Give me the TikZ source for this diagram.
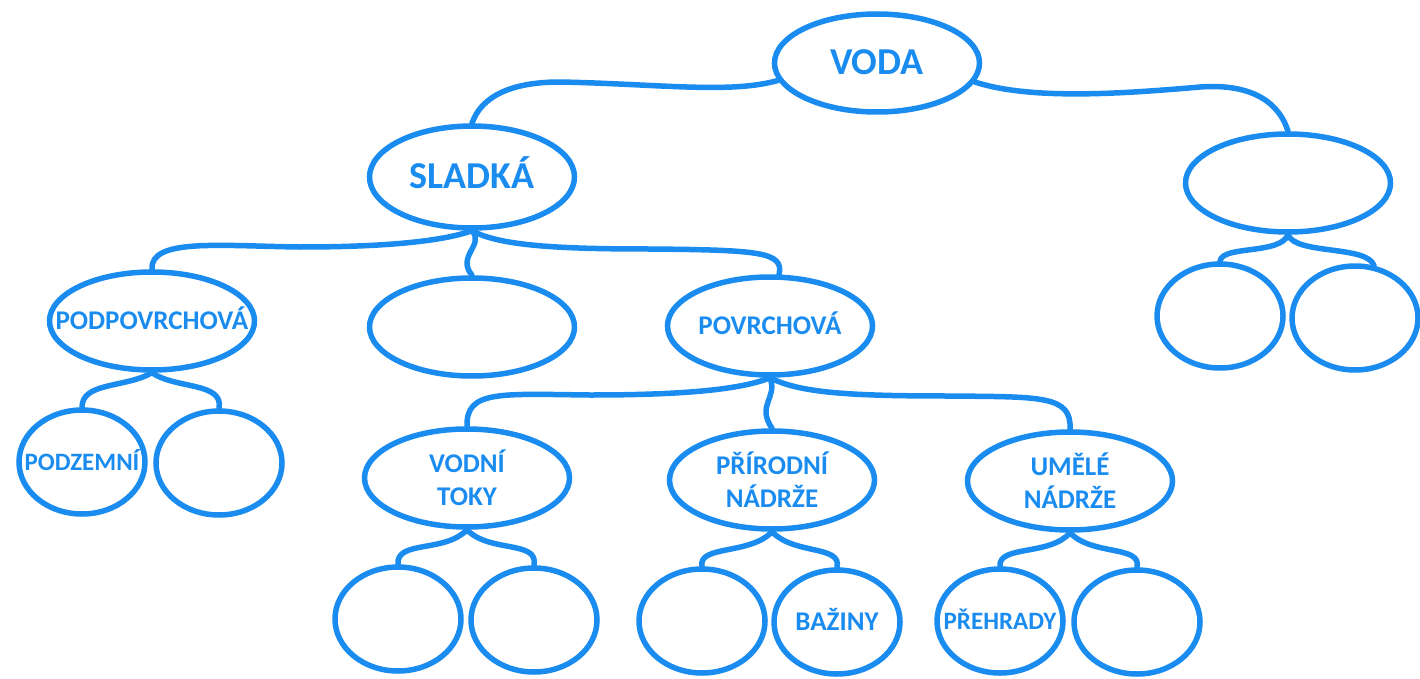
\documentclass[tikz,border=0pt]{standalone}
\usepackage{fontspec}
\setmainfont{Carlito}
\usetikzlibrary{shapes.geometric}
\definecolor{wblue}{RGB}{26,140,240}
\newcommand{\zb}[1]{\makebox[0pt]{#1}}
\tikzset{
  bub/.style={ellipse, draw=wblue, line width=5.5pt, inner sep=0pt, text=wblue, font=\bfseries},
  big/.style={bub, minimum width=205pt, minimum height=98pt},
  small/.style={bub, minimum width=126pt, minimum height=104pt},
  link/.style={draw=wblue, line width=5.5pt, line cap=round},
  tbig/.style={font=\bfseries\fontsize{38}{40}\selectfont, text height=24pt, text depth=0pt},
  tmid/.style={font=\bfseries\fontsize{27}{33}\selectfont, text height=17pt, text depth=0pt},
  tsm/.style={font=\bfseries\fontsize{25}{30}\selectfont, text height=16pt, text depth=0pt},
  ttwo/.style={font=\bfseries\fontsize{27}{33}\selectfont, align=center},
}
\begin{document}
\begin{tikzpicture}[x=1pt,y=-1pt]
\useasboundingbox (0,0) rectangle (1420,679);
% nodes
\node[big, tbig] (voda) at (877,63) {\zb{VODA}};
\node[big, tbig, minimum height=102pt] (sladka) at (472,177) {\zb{SLADKÁ}};
\node[big] (right) at (1288,183) {};
\node[small] (r1) at (1220,316) {};
\node[small] (r2) at (1355,318) {};
\node[big, tmid] (podpov) at (152,321) {\zb{PODPOVRCHOVÁ}};
\node[big] (mid) at (472,327) {};
\node[big, tmid] (povrch) at (770,326) {\zb{POVRCHOVÁ}};
\node[small, tsm] (podzem) at (82,462) {\zb{PODZEMNÍ}};
\node[small] (e2) at (219,463) {};
\node[big, ttwo] (vodni) at (467,478) {\zb{VODNÍ}\\\zb{TOKY}};
\node[big, ttwo] (prirod) at (772,480) {\zb{PŘÍRODNÍ}\\\zb{NÁDRŽE}};
\node[big, ttwo] (umele) at (1070,481) {\zb{UMĚLÉ}\\\zb{NÁDRŽE}};
\node[small] (b1) at (398,619) {};
\node[small] (b2) at (534,620) {};
\node[small] (b3) at (702,621) {};
\node[small, tmid] (bazin) at (837,622) {\zb{BAŽINY}};
\node[small, tsm] (preh) at (1000,621) {\zb{PŘEHRADY}};
\node[small] (b6) at (1137,622) {};
% connectors
\draw[link] (voda.190) .. controls (730,94) and (660,84) .. (560,82)
  .. controls (505,82) and (480,100) .. (sladka.north);
\draw[link] (voda.-11) .. controls (1030,100) and (1120,94) .. (1200,87)
  .. controls (1255,83) and (1280,105) .. (right.north);
\draw[link] (right.south) .. controls (1280,255) and (1222,245) .. (r1.north);
\draw[link] (right.south) .. controls (1296,255) and (1367,245) .. (r2.70);
\draw[link] (sladka.south) .. controls (440,242) and (380,247) .. (300,247)
  .. controls (220,246) and (150,238) .. (podpov.north);
\draw[link] (sladka.south) .. controls (485,245) and (456,256) .. (mid.north);
\draw[link] (sladka.south) .. controls (500,246) and (560,249) .. (650,249)
  .. controls (760,250) and (784,252) .. (povrch.80);
\draw[link] (podpov.south) .. controls (125,388) and (82,382) .. (podzem.north);
\draw[link] (podpov.south) .. controls (175,389) and (224,382) .. (e2.north);
\draw[link] (povrch.south) .. controls (740,390) and (680,395) .. (590,395)
  .. controls (500,394) and (466,390) .. (vodni.north);
\draw[link] (povrch.south) .. controls (778,398) and (756,405) .. (prirod.north);
\draw[link] (povrch.south) .. controls (800,393) and (850,396) .. (950,396)
  .. controls (1040,397) and (1072,395) .. (umele.north);
\draw[link] (vodni.south) .. controls (445,553) and (396,540) .. (b1.north);
\draw[link] (vodni.south) .. controls (489,553) and (539,540) .. (b2.north);
\draw[link] (prirod.south) .. controls (750,555) and (698,545) .. (b3.north);
\draw[link] (prirod.south) .. controls (794,555) and (842,545) .. (bazin.north);
\draw[link] (umele.south) .. controls (1050,556) and (998,545) .. (preh.north);
\draw[link] (umele.south) .. controls (1092,556) and (1142,545) .. (b6.north);
\end{tikzpicture}
\end{document}
